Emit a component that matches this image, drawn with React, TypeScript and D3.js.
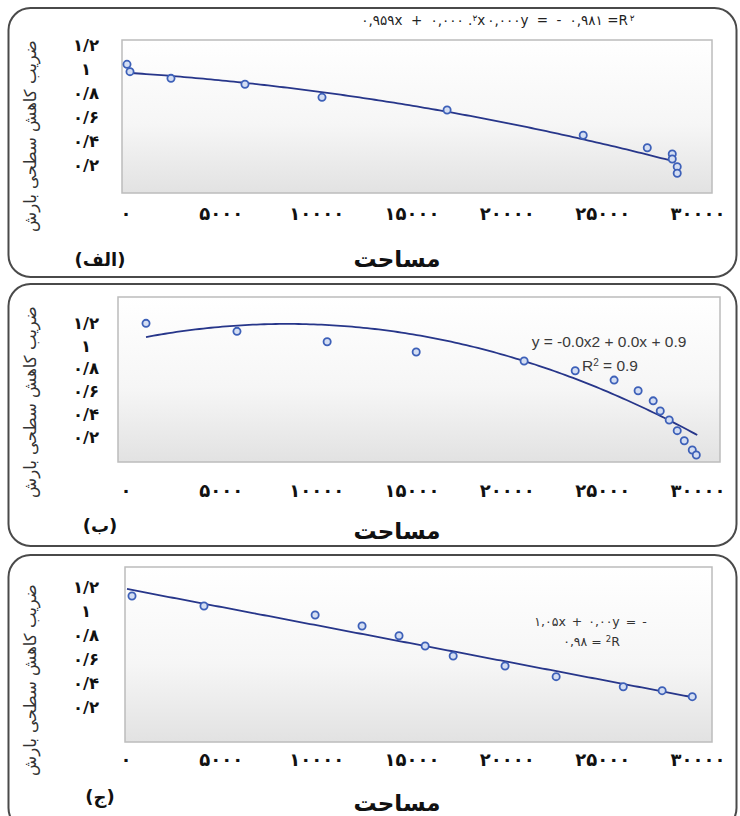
import React from "react";
import * as d3 from "d3";

// x ticks (area) and y ticks (coefficient)
const xTicks = [0, 5000, 10000, 15000, 20000, 25000, 30000];
const yTicks = [0.2, 0.4, 0.6, 0.8, 1, 1.2];

// panel (الف)
const areaA = [52, 210, 2360, 6240, 10280, 16840, 23980, 27340, 28650, 28650, 28910, 28910];
const coefA = [1.039, 0.978, 0.922, 0.873, 0.764, 0.658, 0.448, 0.344, 0.292, 0.25, 0.186, 0.131];
const trendA = [0.9695, -0.1029, -0.0537]; // a + b*t + c*t^2, t = area/10000
const spanA = [52, 28810];

// panel (ب)
const areaB = [1050, 5820, 10550, 15220, 20880, 23560, 25600, 26860, 27650, 28020, 28490, 28910, 29280, 29700, 29910];
const coefB = [1.197, 1.127, 1.036, 0.946, 0.867, 0.782, 0.7, 0.607, 0.518, 0.429, 0.35, 0.257, 0.169, 0.088, 0.044];
const trendB = [1.042, 0.355, -0.2102];
const spanB = [1050, 29960];

// panel (ج)
const areaC = [315, 4090, 9920, 12380, 14320, 15690, 17160, 19880, 22560, 26080, 28120, 29700];
const coefC = [1.125, 1.042, 0.967, 0.875, 0.794, 0.708, 0.625, 0.542, 0.453, 0.369, 0.336, 0.286];
const trendC = [1.185, -0.304, 0];
const spanC = [52, 29900];

const yTitle = "ضریب کاهش سطحی بارش";
const xTitle = "مساحت";

const FA = "DejaVu Sans, sans-serif";
const LTR = { direction: "ltr", unicodeBidi: "bidi-override" } as any;
const toFa = (s: string) => s.replace(/\d/g, (d) => "۰۱۲۳۴۵۶۷۸۹"[+d]);
const fmtY = (v: number) => toFa(d3.format("~g")(+v.toFixed(1)).replace(".", "/"));

const x = d3.scaleLinear().domain([0, 30000]).range([126, 698]);

function Panel({ top, height, plot, yRange, tickY, titleY, tag, tagY, ylabCy, area, coef, trend, span, id, children }: any) {
  const y = d3.scaleLinear().domain([0, 1.2]).range(yRange);
  const f = (v: number) => {
    const t = v / 10000;
    return trend[0] + trend[1] * t + trend[2] * t * t;
  };
  const xs = d3.range(span[0], span[1], 200).concat([span[1]]);
  const line = d3.line<number>().x((d) => x(d)).y((d) => y(f(d)));
  return (
    <g>
      <defs>
        <linearGradient id={id} x1="0" y1="0" x2="0" y2="1">
          <stop offset="0" stopColor="#ffffff" />
          <stop offset="0.55" stopColor="#f6f6f6" />
          <stop offset="1" stopColor="#e2e2e2" />
        </linearGradient>
      </defs>
      <rect x={8.5} y={top} width={728} height={height} rx={22} fill="none" stroke="#4a4a4a" strokeWidth={2} />
      <rect x={plot[0]} y={plot[2]} width={plot[1] - plot[0]} height={plot[3] - plot[2]}
        fill={`url(#${id})`} stroke="#bcbcbc" strokeWidth={1.5} />
      {yTicks.map((t) => (
        <text key={t} x={86} y={y(t)} dy="0.35em" textAnchor="middle" fontFamily={FA} fontWeight="bold"
          fontSize={16.5} fill="#111">{fmtY(t)}</text>
      ))}
      {xTicks.map((t) => (
        <text key={t} x={x(t)} y={tickY} dy="0.35em" textAnchor="middle" fontFamily={FA} fontWeight="bold"
          fontSize={18} letterSpacing={3} fill="#111">{toFa(String(t))}</text>
      ))}
      <path d={line(xs) || ""} fill="none" stroke="#27368a" strokeWidth={1.8} />
      {area.map((a: number, i: number) => (
        <circle key={i} cx={x(a)} cy={y(coef[i])} r={3.6} fill="#d4def3" stroke="#3d60b8" strokeWidth={1.8} />
      ))}
      <text transform={`translate(36,${ylabCy}) rotate(-90)`} textAnchor="middle" fontFamily={FA}
        fontSize={16.5} fill="#333">{yTitle}</text>
      <text x={397} y={titleY} dy="0.35em" textAnchor="middle" fontFamily={FA} fontWeight="bold"
        fontSize={23} fill="#111">{xTitle}</text>
      <text x={100} y={tagY} dy="0.35em" textAnchor="middle" fontFamily={FA} fontWeight="bold"
        fontSize={18} fill="#111">{tag}</text>
      {children}
    </g>
  );
}

export default function App() {
  return (
    <svg width={740} height={816} style={{ position: "absolute", left: 0, top: 0, background: "#fff" }}>
      <Panel id="gA" top={8} height={269} plot={[122, 712, 40, 193]} yRange={[189, 45]} tickY={214}
        titleY={259} tag="(الف)" tagY={260} ylabCy={136} area={areaA} coef={coefA} trend={trendA} span={spanA}>
        <text x={498} y={20} dy="0.35em" textAnchor="middle" fontFamily={FA} fontSize={13.5} letterSpacing={2}
          fill="#222" style={LTR}>
          {"۰,۹۵۹x + ۰,۰۰۰ ."}
          <tspan dy="-4" fontSize={9}>۲</tspan>
          <tspan dy="4">{"x۰,۰۰۰y = - ۰,۹۸۱ =R"}</tspan>
          <tspan dy="-4" fontSize={9}>۲</tspan>
        </text>
      </Panel>
      <Panel id="gB" top={284} height={262} plot={[118, 720, 297, 462]} yRange={[460, 323]} tickY={491}
        titleY={531} tag="(ب)" tagY={526} ylabCy={402} area={areaB} coef={coefB} trend={trendB} span={spanB}>
        <text x={609} y={342} dy="0.35em" textAnchor="middle" fontFamily="Liberation Sans, sans-serif"
          fontSize={15.5} fill="#3a3a3a">y = -0.0x2 + 0.0x + 0.9</text>
        <text x={610} y={366} dy="0.35em" textAnchor="middle" fontFamily="Liberation Sans, sans-serif"
          fontSize={15.5} fill="#3a3a3a">R<tspan dy="-5" fontSize={10}>2</tspan><tspan dy="5"> = 0.9</tspan></text>
      </Panel>
      <Panel id="gC" top={555} height={275} plot={[125, 712, 567, 742]} yRange={[731, 587]} tickY={760}
        titleY={803} tag="(ج)" tagY={797} ylabCy={680} area={areaC} coef={coefC} trend={trendC} span={spanC}>
        <text x={591} y={622} dy="0.35em" textAnchor="middle" fontFamily={FA} fontSize={12.5} letterSpacing={1}
          fill="#333" style={LTR}>{"۱,۰۵x + ۰,۰۰y = -"}</text>
        <text x={592} y={642} dy="0.35em" textAnchor="middle" fontFamily={FA} fontSize={12.5} letterSpacing={1}
          fill="#333" style={LTR}>
          {"۰,۹۸ = "}<tspan dy="-4" fontSize={8.5}>2</tspan><tspan dy="4">R</tspan>
        </text>
      </Panel>
    </svg>
  );
}
